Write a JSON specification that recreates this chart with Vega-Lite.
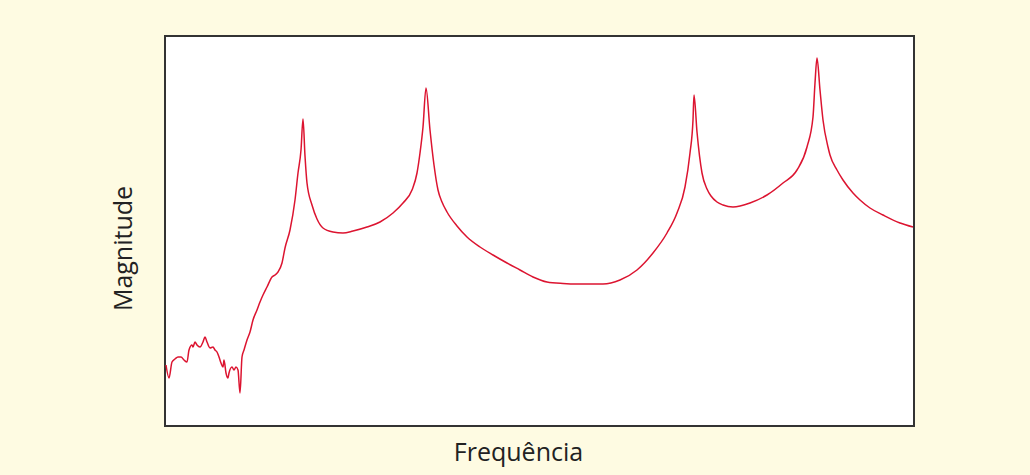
{
  "$schema": "https://vega.github.io/schema/vega-lite/v6.json",
  "width": 749,
  "height": 390,
  "autosize": {"type": "none"},
  "padding": {"left": 165, "top": 36, "right": 116, "bottom": 49},
  "background": "#FEFBE2",
  "config": {
    "view": {"fill": "white", "stroke": "#333333", "strokeWidth": 2},
    "font": "Open Sans"
  },
  "data": {
    "values": [
      {"f": 1, "m": 61}, {"f": 4, "m": 48}, {"f": 7, "m": 64}, {"f": 10, "m": 67},
      {"f": 13, "m": 69}, {"f": 16, "m": 69}, {"f": 19, "m": 66}, {"f": 22, "m": 64},
      {"f": 24, "m": 76}, {"f": 27, "m": 81}, {"f": 28, "m": 79}, {"f": 30, "m": 84},
      {"f": 32, "m": 81}, {"f": 35, "m": 79}, {"f": 38, "m": 84}, {"f": 40, "m": 89},
      {"f": 42, "m": 84}, {"f": 45, "m": 78}, {"f": 48, "m": 79}, {"f": 50, "m": 76},
      {"f": 52, "m": 74}, {"f": 54, "m": 69}, {"f": 56, "m": 63}, {"f": 58, "m": 59},
      {"f": 59, "m": 66}, {"f": 61, "m": 53}, {"f": 63, "m": 48}, {"f": 64, "m": 53},
      {"f": 67, "m": 59}, {"f": 69, "m": 56}, {"f": 71, "m": 59}, {"f": 73, "m": 56},
      {"f": 75, "m": 33}, {"f": 77, "m": 69}, {"f": 79, "m": 76}, {"f": 82, "m": 86},
      {"f": 85, "m": 94}, {"f": 88, "m": 106}, {"f": 92, "m": 116}, {"f": 95, "m": 124},
      {"f": 98, "m": 131}, {"f": 102, "m": 139}, {"f": 107, "m": 149}, {"f": 110, "m": 151},
      {"f": 113, "m": 154}, {"f": 117, "m": 163}, {"f": 120, "m": 178}, {"f": 125, "m": 196},
      {"f": 130, "m": 226}, {"f": 133, "m": 253}, {"f": 136, "m": 276}, {"f": 138, "m": 307},
      {"f": 140, "m": 270}, {"f": 142, "m": 243}, {"f": 147, "m": 221}, {"f": 152, "m": 207},
      {"f": 158, "m": 198}, {"f": 168, "m": 194}, {"f": 178, "m": 193}, {"f": 188, "m": 195},
      {"f": 202, "m": 199}, {"f": 215, "m": 204}, {"f": 228, "m": 213}, {"f": 238, "m": 223},
      {"f": 247, "m": 236}, {"f": 252, "m": 253}, {"f": 255, "m": 273}, {"f": 258, "m": 299},
      {"f": 261, "m": 338}, {"f": 265, "m": 296}, {"f": 269, "m": 261}, {"f": 273, "m": 236},
      {"f": 277, "m": 224}, {"f": 282, "m": 214}, {"f": 292, "m": 200}, {"f": 302, "m": 189},
      {"f": 315, "m": 179}, {"f": 328, "m": 171}, {"f": 342, "m": 163}, {"f": 355, "m": 156},
      {"f": 368, "m": 149}, {"f": 382, "m": 144}, {"f": 398, "m": 142.5}, {"f": 412, "m": 142},
      {"f": 425, "m": 142}, {"f": 438, "m": 142}, {"f": 455, "m": 146}, {"f": 472, "m": 156},
      {"f": 488, "m": 173}, {"f": 502, "m": 193}, {"f": 512, "m": 213}, {"f": 520, "m": 239},
      {"f": 525, "m": 273}, {"f": 528, "m": 306}, {"f": 529, "m": 331}, {"f": 532, "m": 294},
      {"f": 537, "m": 253}, {"f": 542, "m": 237}, {"f": 546, "m": 230}, {"f": 552, "m": 224},
      {"f": 558, "m": 221}, {"f": 568, "m": 219}, {"f": 585, "m": 223}, {"f": 602, "m": 231},
      {"f": 618, "m": 243}, {"f": 632, "m": 256}, {"f": 642, "m": 279}, {"f": 648, "m": 309},
      {"f": 650, "m": 343}, {"f": 652, "m": 368}, {"f": 655, "m": 336}, {"f": 658, "m": 306},
      {"f": 663, "m": 279}, {"f": 665, "m": 271}, {"f": 672, "m": 256}, {"f": 678, "m": 246},
      {"f": 688, "m": 233}, {"f": 695, "m": 226}, {"f": 705, "m": 218}, {"f": 718, "m": 211},
      {"f": 735, "m": 203}, {"f": 748, "m": 199}
    ]
  },
  "mark": {"type": "line", "color": "#DC1430", "strokeWidth": 1.5, "interpolate": "monotone"},
  "encoding": {
    "x": {
      "field": "f", "type": "quantitative",
      "scale": {"domain": [0, 749], "nice": false, "zero": false},
      "axis": {"title": "Frequência", "labels": false, "ticks": false, "domain": false, "grid": false,
               "titleFontSize": 25, "titleFontWeight": "normal", "titleColor": "#222222", "titlePadding": 14,
               "titleX": 353, "titleFont": "Open Sans"}
    },
    "y": {
      "field": "m", "type": "quantitative",
      "scale": {"domain": [0, 390], "nice": false, "zero": false},
      "axis": {"title": "Magnitude", "labels": false, "ticks": false, "domain": false, "grid": false,
               "titleFontSize": 25, "titleFontWeight": "normal", "titleColor": "#222222", "titlePadding": 29,
               "titleY": 212, "titleFont": "Open Sans"}
    }
  }
}
